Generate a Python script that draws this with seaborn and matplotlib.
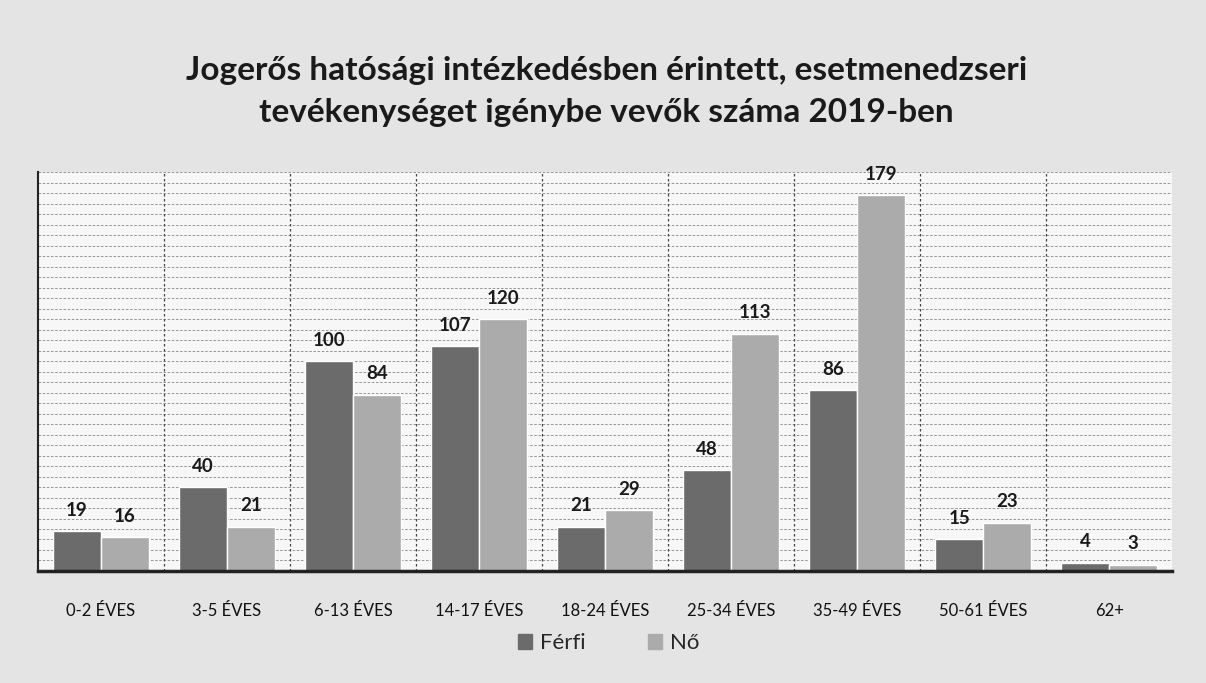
import numpy as np
import pandas as pd
import matplotlib
matplotlib.use("Agg")
import matplotlib.pyplot as plt
import seaborn as sns

categories = ["0-2 ÉVES", "3-5 ÉVES", "6-13 ÉVES", "14-17 ÉVES", "18-24 ÉVES",
              "25-34 ÉVES", "35-49 ÉVES", "50-61 ÉVES", "62+"]
ferfi = [19, 40, 100, 107, 21, 48, 86, 15, 4]
no = [16, 21, 84, 120, 29, 113, 179, 23, 3]
series = ["Férfi", "Nő"]

df = pd.DataFrame({
    "kat": categories * 2,
    "nem": [series[0]] * len(categories) + [series[1]] * len(categories),
    "ertek": ferfi + no,
})

sns.set_theme(style="white")
plt.rcParams["font.family"] = ["Lato", "DejaVu Sans"]

fig = plt.figure(figsize=(12.06, 6.83), dpi=100)
fig.patch.set_facecolor("#e4e4e4")
ax = fig.add_axes([0.0315, 0.164, 0.9405, 0.584])
ax.set_facecolor("#f7f7f7")

sns.barplot(data=df, x="kat", y="ertek", hue="nem", order=categories,
            palette=["#6b6b6b", "#ababab"], width=0.76, saturation=1,
            ax=ax, legend=False)

for cont in ax.containers:
    ax.bar_label(cont, padding=9, fontsize=13.5, fontweight="bold", color="#1a1a1a")

ax.set_ylim(0, 190)
ax.set_xlim(-0.5, len(categories) - 0.5)
ax.set_yticks(np.arange(0, 191, 5))
ax.yaxis.grid(True, linestyle=(0, (3, 2)), color="#555555", linewidth=0.6, alpha=0.7)
ax.set_axisbelow(True)
for b in np.arange(0.5, len(categories) - 0.5, 1):
    ax.axvline(b, color="#444444", linestyle=(0, (2, 2)), linewidth=0.9, zorder=0)
ax.tick_params(axis="y", left=False, labelleft=False)
ax.tick_params(axis="x", bottom=False, labelsize=12, pad=17, colors="#111111")
ax.set_xlabel("")
ax.set_ylabel("")
for s in ["top", "right"]:
    ax.spines[s].set_visible(False)
ax.spines["left"].set_color("#222222")
ax.spines["left"].set_linewidth(1.5)
ax.spines["bottom"].set_color("#222222")
ax.spines["bottom"].set_linewidth(2.5)

fig.text(0.503, 0.897, "Jogerős hatósági intézkedésben érintett, esetmenedzseri",
         ha="center", va="center", fontsize=24, fontweight="bold", color="#1a1a1a")
fig.text(0.503, 0.835, "tevékenységet igénybe vevők száma 2019-ben",
         ha="center", va="center", fontsize=24, fontweight="bold", color="#1a1a1a")

handles = [plt.Rectangle((0, 0), 1, 1, color=c) for c in ["#6b6b6b", "#ababab"]]
fig.legend(handles, series, loc="center", bbox_to_anchor=(0.505, 0.058), ncol=2,
           frameon=False, fontsize=16, handlelength=0.6, handleheight=0.6,
           columnspacing=2.8, handletextpad=0.4)

fig.savefig("out.png", dpi=100, facecolor=fig.get_facecolor())
